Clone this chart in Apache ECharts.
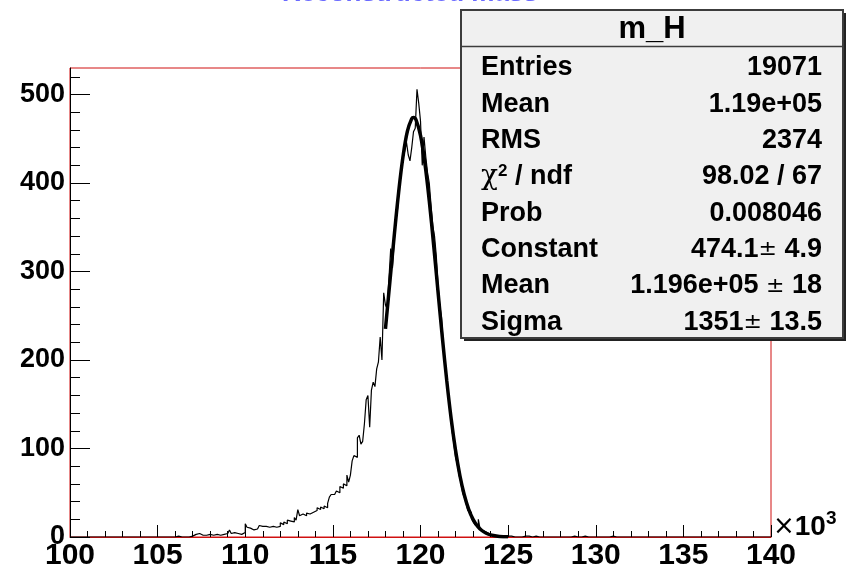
<!DOCTYPE html>
<html><head><meta charset="utf-8">
<script src="https://cdn.jsdelivr.net/npm/echarts@6/dist/echarts.min.js"></script>
<style>html,body{margin:0;padding:0;background:#fff}#c{width:850px;height:571px}</style>
</head><body><div id="c"></div>
<script>
// Histogram m_H : 400 bins of width 0.1 (x10^3) from 100 to 140
const histLow = 100, histHigh = 140, nBins = 400;
const counts = [
 0,0,0,0,0,0,0,0,0,0,  0,0,0,0,0,0,0,0,0,0,  0,0,0,0,0,0,0,0,0,0,  // 100-102
 0,0,0,0,0,0,0,0,0,0,  0,0,0,0,0,0,0,0,0,0,  0,0,0,0,0,0,0,0,0,0,  // 103-105
 0,1,0,0,2,0,1,0,1,1,        // 106
 2,3,2,4,3,2,3,2,1,3,        // 107
 5,2,3,3,4,2,3,3,2,4,        // 108
 3,8,4,5,3,4,5,3,4,5,        // 109
 15,11,10,9,8,10,9,9,13,12,  // 110
 13,12,14,11,10,12,11,11,10,12, // 111
 16,14,17,15,19,18,20,17,22,19, // 112
 31,24,26,25,24,27,26,24,28,29, // 113
 30,33,31,34,32,35,33,38,45,48, // 114
 48,46,52,50,57,55,60,58,70,62, // 115
 70,86,92,90,112,115,105,108,128,155, // 116
 160,124,166,175,170,190,198,226,200,276, // 117
 262,258,292,326,304,335,358,372,398,415, // 118
 428,436,446,432,425,440,458,462,506,490, // 119
 470,420,452,430,412,400,375,352,340,318, // 120
 285,262,248,218,200,176,158,140,120,106, // 121
 90,82,70,62,50,45,38,30,28,21,  // 122
 17,14,12,20,9,7,5,5,3,3,        // 123
 3,2,3,1,2,1,2,0,1,1,            // 124
 0,1,2,0,1,0,1,0,0,1,            // 125
 0,1,0,0,0,1,2,0,0,0,            // 126
 1,0,0,0,1,0,0,0,2,0,            // 127
 0,0,1,0,0,0,2,1,0,0,            // 128
 0,0,0,1,0,0,0,0,0,0,            // 129
 0,0,0,0,0,0,0,0,0,1,            // 130
 0,0,0,0,0,0,0,0,0,0,  0,0,0,0,0,0,0,0,0,0,  0,0,0,0,0,0,0,0,0,0,  // 131-133
 0,0,0,0,0,0,0,0,0,0,  0,0,0,0,0,0,0,0,0,0,  0,0,0,0,0,0,0,0,0,0,  // 134-136
 0,0,0,0,0,0,0,0,0,0,  0,0,0,0,0,0,0,0,0,0,  0,0,0,0,0,0,0,0,0,0   // 137-139
];
// Gaussian fit curve (as drawn)
const fitX = [118,118.25,118.5,118.75,119,119.25,119.5,119.6,119.75,120,120.25,120.5,120.75,121,121.25,121.5,121.75,122,122.25,122.5,122.75,123,123.25,123.5,123.75,124,124.5,125];
const fitY = [235.2,287.8,340.3,389.0,429.6,458.5,472.8,474.1,471.2,453.8,422.3,379.8,330.0,277.1,224.9,176.4,133.6,97.9,69.2,47.4,31.3,20.0,12.3,7.35,4.2,2.36,0.66,0.16];
// Axis ticks
const yMajorTicks = [0, 100, 200, 300, 400, 500];
// Stats box
const statTitle = 'm_H';
const statLabels = ['Entries','Mean','RMS','{chi|χ}{sup|2} / ndf','Prob','Constant','Mean','Sigma'];
const statValues = ['19071','1.19e+05','2374','98.02 / 67','0.008046','474.1{pm|±} 4.9','1.196e+05 {pm|±} 18','1351{pm|±} 13.5'];
const histTitle = 'Reconstructed mass';

const histData = [];
for (let i = 0; i < nBins; i++) histData.push([(histLow * 10 + i) / 10, counts[i]]);
histData.push([histHigh, counts[nBins - 1]]);
const fitData = fitX.map((x, i) => [x, fitY[i]]);

const FONT = '"Liberation Sans", Arial, sans-serif';
const chart = echarts.init(document.getElementById('c'), null, {renderer: 'canvas'});

const box = {x: 461, y: 10, w: 382, h: 328};
const rowY0 = 68, rowDy = 36.3;
const graphics = [
  {type: 'text', x: 282, y: -6, style: {text: histTitle, font: 'bold 26px ' + FONT, fill: '#6a6aff', align: 'left', verticalAlign: 'middle'}, z: 10},
  {type: 'rect', shape: {x: box.x + 3, y: box.y + 3, width: box.w, height: box.h}, style: {fill: '#222'}, z: 20},
  {type: 'rect', shape: {x: box.x, y: box.y, width: box.w, height: box.h}, style: {fill: '#f0f0f0', stroke: '#3c3c3c', lineWidth: 2}, z: 21},
  {type: 'line', shape: {x1: box.x, y1: 46.5, x2: box.x + box.w, y2: 46.5}, style: {stroke: '#3c3c3c', lineWidth: 1.5}, z: 22},
  {type: 'text', x: box.x + box.w / 2, y: 29, style: {text: statTitle, font: 'bold 31px ' + FONT, fill: '#000', align: 'center', verticalAlign: 'middle'}, z: 22},
  {type: 'text', x: 773, y: 527, z: 30, style: {text: '{x|×}{n|10}{s|3}', verticalAlign: 'middle', font: 'bold 28px ' + FONT,
      rich: {x: {font: '26px "DejaVu Sans"', fill: '#000'}, n: {font: 'bold 28px ' + FONT, fill: '#000'},
             s: {font: 'bold 19px ' + FONT, fill: '#000', padding: [0, 0, 16, 0]}}}}
];
const rich = {
  chi: {font: '28px "DejaVu Serif"', fill: '#000'},
  sup: {font: 'bold 17px ' + FONT, fill: '#000', padding: [0, 0, 12, 0]},
  pm: {font: '22px "DejaVu Sans"', fill: '#000'}
};
statLabels.forEach((t, i) => {
  graphics.push({type: 'text', x: 481, y: rowY0 + i * rowDy, z: 22,
    style: {text: t, font: 'bold 27px ' + FONT, fill: '#000', align: 'left', verticalAlign: 'middle', rich}});
  graphics.push({type: 'text', x: 822, y: rowY0 + i * rowDy, z: 22,
    style: {text: statValues[i], font: 'bold 27px ' + FONT, fill: '#000', align: 'right', verticalAlign: 'middle', rich}});
});

chart.setOption({
  animation: false,
  backgroundColor: '#fff',
  grid: {left: 70, right: 79, top: 68, bottom: 30, show: true, borderColor: '#d01010', borderWidth: 1, containLabel: false},
  xAxis: {
    type: 'value', min: histLow, max: histHigh, interval: 5,
    axisLine: {show: true, onZero: false, lineStyle: {color: '#d01010', width: 1}},
    axisTick: {show: true, inside: true, length: 12, lineStyle: {color: '#000', width: 1}},
    minorTick: {show: true, splitNumber: 5, length: 6, lineStyle: {color: '#000', width: 1}},
    splitLine: {show: false},
    axisLabel: {show: true, margin: 4, color: '#000', fontFamily: FONT, fontWeight: 'bold', fontSize: 30}
  },
  yAxis: {
    type: 'value', min: 0, max: 530, interval: 100,
    axisLine: {show: true, lineStyle: {color: '#000', width: 1}},
    axisTick: {show: true, inside: true, length: 20, customValues: yMajorTicks, lineStyle: {color: '#000', width: 1}},
    minorTick: {show: true, splitNumber: 5, length: 10, lineStyle: {color: '#000', width: 1}},
    splitLine: {show: false},
    axisLabel: {show: true, margin: 5, color: '#000', fontFamily: FONT, fontWeight: 'bold', fontSize: 27,
      formatter: v => (v % 100 === 0 ? String(v) : '')}
  },
  series: [
    {type: 'line', data: histData, step: 'end', symbol: 'none', lineStyle: {color: '#000', width: 1.2}, z: 3},
    {type: 'line', data: fitData, smooth: 0.4, symbol: 'none', lineStyle: {color: '#000', width: 3.5}, z: 4}
  ],
  graphic: graphics
});
</script></body></html>
